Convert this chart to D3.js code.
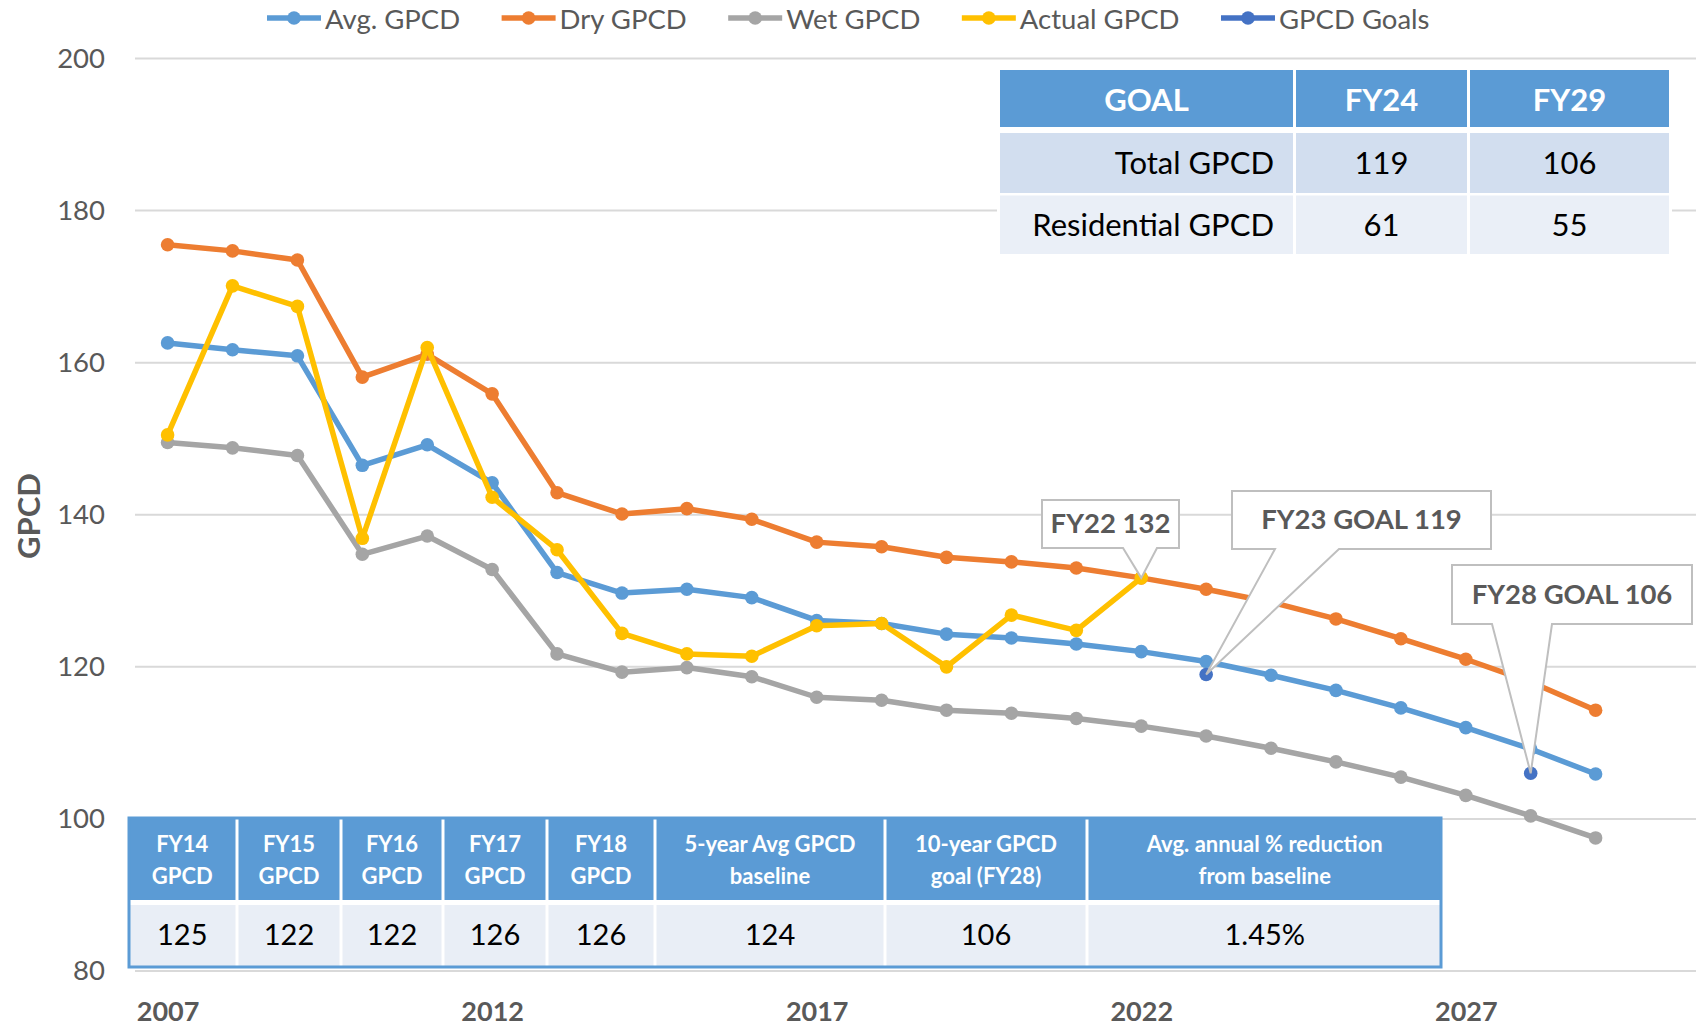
<!DOCTYPE html>
<html><head><meta charset="utf-8">
<script src="https://cdn.jsdelivr.net/npm/d3@7"></script>
<style>
html,body{margin:0;padding:0;background:#fff;}
svg{display:block;font-family:Lato,"Open Sans",sans-serif;}
</style></head><body>
<svg id="chart" width="1696" height="1028"></svg>
<script>
// ---------- DATA ----------
const years = [2007,2008,2009,2010,2011,2012,2013,2014,2015,2016,2017,2018,2019,2020,2021,2022,2023,2024,2025,2026,2027,2028,2029];
const avgGPCD = [162.6,161.7,160.9,146.5,149.2,144.2,132.4,129.7,130.2,129.1,126.1,125.7,124.3,123.8,123.0,122.0,120.7,118.9,116.9,114.6,112.0,109.2,105.9];
const dryGPCD = [175.5,174.7,173.5,158.1,161.1,155.9,142.9,140.1,140.8,139.4,136.4,135.8,134.4,133.8,133.0,131.7,130.2,128.5,126.3,123.7,121.0,118.0,114.3];
const wetGPCD = [149.5,148.8,147.8,134.8,137.2,132.8,121.7,119.3,119.9,118.7,116.0,115.6,114.3,113.9,113.2,112.2,110.9,109.3,107.5,105.5,103.1,100.4,97.5];
const actualYears = [2007,2008,2009,2010,2011,2012,2013,2014,2015,2016,2017,2018,2019,2020,2021,2022];
const actualGPCD = [150.5,170.1,167.4,136.9,162.0,142.3,135.4,124.4,121.7,121.4,125.4,125.7,120.0,126.8,124.8,131.7];
const goalYears = [2023,2028];
const goalGPCD = [119,106];
const seriesNames = ["Avg. GPCD","Dry GPCD","Wet GPCD","Actual GPCD","GPCD Goals"];
const xTickYears = [2007,2012,2017,2022,2027];
const yTickValues = [80,100,120,140,160,180,200];
const yAxisTitle = "GPCD";
const goalTableHeader = ["GOAL","FY24","FY29"];
const goalTableLabels = ["Total GPCD","Residential GPCD"];
const goalTableFY24 = ["119","61"];
const goalTableFY29 = ["106","55"];
const baselineHeaders = [["FY14","GPCD"],["FY15","GPCD"],["FY16","GPCD"],["FY17","GPCD"],["FY18","GPCD"],["5-year Avg GPCD","baseline"],["10-year GPCD","goal (FY28)"],["Avg. annual % reduction","from baseline"]];
const baselineValues = ["125","122","122","126","126","124","106","1.45%"];
const calloutTexts = ["FY22 132","FY23 GOAL 119","FY28 GOAL 106"];
const calloutYears = [2022,2023,2028];
const calloutValues = [131.7,119,106];

// ---------- LAYOUT ----------
const colors = ["#5B9BD5","#ED7D31","#A5A5A5","#FFC000","#4472C4"];
const grey = "#595959";
const svg = d3.select("#chart");
const x = d3.scaleLinear().domain([2007,2029]).range([167.6,1595.6]);
const y = d3.scaleLinear().domain([80,200]).range([971,58.5]);

// gridlines
svg.append("g").selectAll("line").data(yTickValues).join("line")
  .attr("x1",135).attr("x2",1696)
  .attr("y1",d=>y(d)).attr("y2",d=>y(d))
  .attr("stroke","#D9D9D9").attr("stroke-width",2);

// y axis labels via d3 axis
const yAxis = svg.append("g").attr("transform","translate(105,0)")
  .call(d3.axisLeft(y).tickValues(yTickValues).tickSize(0).tickPadding(0));
yAxis.select(".domain").remove();
yAxis.selectAll("text").attr("fill",grey).style("font-size","27.5px").style("font-family","Lato");

// x axis labels
const xAxis = svg.append("g").attr("transform","translate(0,1002)")
  .call(d3.axisBottom(x).tickValues(xTickYears).tickFormat(d3.format("d")).tickSize(0).tickPadding(0));
xAxis.select(".domain").remove();
xAxis.selectAll("text").attr("fill",grey).style("font-size","27px").style("font-weight","bold").style("font-family","Lato");

// y title
svg.append("text").attr("transform","translate(27.5,516) rotate(-90)")
  .attr("text-anchor","middle").attr("dominant-baseline","central")
  .attr("fill",grey).style("font-size","31px").style("font-weight","bold").text(yAxisTitle);

// series
const line = d3.line().x(d=>x(d[0])).y(d=>y(d[1]));
const seriesData = [
  d3.zip(years,avgGPCD), d3.zip(years,dryGPCD), d3.zip(years,wetGPCD),
  d3.zip(actualYears,actualGPCD), d3.zip(goalYears,goalGPCD)
];
seriesData.forEach((pts,i)=>{
  const g = svg.append("g");
  if (i < 4) {
    g.append("path").attr("d",line(pts)).attr("fill","none")
      .attr("stroke",colors[i]).attr("stroke-width",5.5).attr("stroke-linejoin","round");
  }
  g.selectAll("circle").data(pts).join("circle")
    .attr("cx",d=>x(d[0])).attr("cy",d=>y(d[1])).attr("r",6.8).attr("fill",colors[i]);
});

// legend
const legend = svg.append("g");
let lx = 267;
seriesNames.forEach((n,i)=>{
  const g = legend.append("g");
  g.append("line").attr("x1",lx).attr("x2",lx+54).attr("y1",18).attr("y2",18)
    .attr("stroke",colors[i]).attr("stroke-width",5.5);
  g.append("circle").attr("cx",lx+27).attr("cy",18).attr("r",6.8).attr("fill",colors[i]);
  const t = g.append("text").attr("x",lx+58).attr("y",18).attr("dominant-baseline","central")
    .attr("fill",grey).style("font-size","27.5px").text(n);
  lx += 58 + t.node().getComputedTextLength() + 41.5;
});

// ---------- goal table (top right) ----------
const tg = svg.append("g");
const tCols = [1000,1294.5,1468.5,1669];
const tRows = [[70,127],[133,193],[195.5,254]];
tg.append("rect").attr("x",997).attr("y",67).attr("width",675).attr("height",190).attr("fill","#fff");
const rowFill = ["#5B9BD5","#D2DEEF","#EAEFF7"];
const tableRows = [goalTableHeader, [goalTableLabels[0],goalTableFY24[0],goalTableFY29[0]], [goalTableLabels[1],goalTableFY24[1],goalTableFY29[1]]];
tableRows.forEach((row,ri)=>{
  row.forEach((cell,ci)=>{
    const x0 = tCols[ci] + (ci>0?1.5:0), x1 = tCols[ci+1] - (ci<2?1.5:0);
    tg.append("rect").attr("x",x0).attr("y",tRows[ri][0]).attr("width",x1-x0)
      .attr("height",tRows[ri][1]-tRows[ri][0]).attr("fill",rowFill[ri]);
    const right = (ri>0 && ci===0);
    tg.append("text").attr("x", right ? x1-19 : (x0+x1)/2)
      .attr("y",(tRows[ri][0]+tRows[ri][1])/2 - (ri>0?1:0))
      .attr("text-anchor", right ? "end" : "middle").attr("dominant-baseline","central")
      .attr("fill", ri===0 ? "#fff" : "#000")
      .style("font-size","31px").style("font-weight", ri===0 ? "bold" : "normal")
      .text(cell);
  });
});

// ---------- baseline table (bottom) ----------
const bg = svg.append("g");
const bCols = [129,237,341,443,547,655,885,1087,1441];
const bTop = 818, bHeadBot = 900, bRowTop = 905, bBot = 966;
bg.append("rect").attr("x",bCols[0]).attr("y",bTop).attr("width",bCols[8]-bCols[0]).attr("height",bBot-bTop).attr("fill","#fff");
baselineHeaders.forEach((h,i)=>{
  const x0 = bCols[i] + (i>0?1.5:0), x1 = bCols[i+1] - (i<7?1.5:0);
  bg.append("rect").attr("x",x0).attr("y",bTop).attr("width",x1-x0).attr("height",bHeadBot-bTop).attr("fill","#5B9BD5");
  bg.append("rect").attr("x",x0).attr("y",bRowTop).attr("width",x1-x0).attr("height",bBot-bRowTop).attr("fill","#E9EEF6");
  h.forEach((ln,j)=>{
    bg.append("text").attr("x",(x0+x1)/2).attr("y",843+j*32).attr("text-anchor","middle")
      .attr("dominant-baseline","central").attr("fill","#fff")
      .style("font-size","22px").style("font-weight","bold").text(ln);
  });
  bg.append("text").attr("x",(x0+x1)/2).attr("y",933.5).attr("text-anchor","middle")
    .attr("dominant-baseline","central").attr("fill","#000")
    .style("font-size","29px").text(baselineValues[i]);
});
bg.append("rect").attr("x",bCols[0]).attr("y",bTop).attr("width",bCols[8]-bCols[0]).attr("height",bBot-bTop+1)
  .attr("fill","none").attr("stroke","#5B9BD5").attr("stroke-width",3);

// ---------- callouts ----------
const boxes = [
  {x0:1042,x1:1179,y0:500,y1:548,b0:1123,b1:1157},
  {x0:1232,x1:1491,y0:491,y1:549,b0:1275,b1:1339},
  {x0:1452,x1:1692,y0:565,y1:624,b0:1492,b1:1552}
];
const cg = svg.append("g");
calloutTexts.forEach((t,i)=>{
  const b = boxes[i];
  const tx = x(calloutYears[i]), ty = y(calloutValues[i]);
  const p = d3.path();
  p.moveTo(b.x0,b.y0); p.lineTo(b.x1,b.y0); p.lineTo(b.x1,b.y1); p.lineTo(b.b1,b.y1);
  p.lineTo(tx,ty); p.lineTo(b.b0,b.y1); p.lineTo(b.x0,b.y1); p.closePath();
  cg.append("path").attr("d",p.toString()).attr("fill","#fff").attr("stroke","#BFBFBF").attr("stroke-width",2);
  cg.append("text").attr("x",(b.x0+b.x1)/2).attr("y",(b.y0+b.y1)/2 - 1.5)
    .attr("text-anchor","middle").attr("dominant-baseline","central")
    .attr("fill",grey).style("font-size","27.5px").style("font-weight","bold").text(t);
});
</script>
</body></html>
